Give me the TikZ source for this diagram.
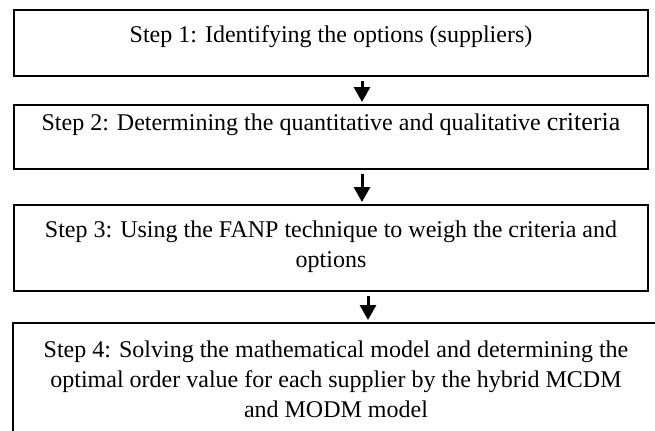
\documentclass[tikz,border=0pt]{standalone}
\usepackage{fontspec}
\setmainfont{Liberation Serif}
\usetikzlibrary{positioning,arrows.meta}

\tikzset{
	stepbox/.style={draw, line width=1pt, minimum width=317pt, inner sep=0pt},
	steptext/.style={font=\fontsize{12}{15}\selectfont, align=center, inner sep=0pt},
	flow/.style={line width=1.5pt, -{Triangle[length=7.5pt,width=8pt]}, shorten <=2pt, shorten >=1pt}
}

\begin{document}
\begin{tikzpicture}[x=0.5pt,y=-0.5pt]
	\useasboundingbox (0,0) rectangle (655,430);
	\clip (0,0) rectangle (655,430);

	% the four boxes
	\node[stepbox, minimum height=33pt] (b1) at (331,43) {};
	\node[stepbox, minimum height=32pt] (b2) at (331,137) {};
	\node[stepbox, minimum height=43pt] (b3) at (331,248) {};
	\node[stepbox, minimum width=323pt, minimum height=61pt] (b4) at (336,384) {};

	\node[steptext, below=8pt of b1.north] (t1)
	{Step 1: Identifying the options (suppliers)};
	\node[steptext, below=4.5pt of b2.north] (t2)
	{Step 2: Determining the quantitative and qualitative {\fontsize{13}{15}\selectfont criteria}};
	\node[steptext, below=8pt of b3.north] (t3)
	{Step 3: Using the FANP technique to weigh the criteria and\\ options};
	\node[steptext, below=9pt of b4.north] (t4)
	{Step 4: Solving the mathematical model and determining the\\ optimal order value for each supplier by the hybrid MCDM\\ and MODM model};

	% arrows
	\coordinate (ax) at (362,0);
	\coordinate (bx) at (368,0);
	\draw[flow] (b1.south -| ax) -- (b2.north -| ax);
	\draw[flow] (b2.south -| ax) -- (b3.north -| ax);
	\draw[flow] (b3.south -| bx) -- (b4.north -| bx);
\end{tikzpicture}
\end{document}
